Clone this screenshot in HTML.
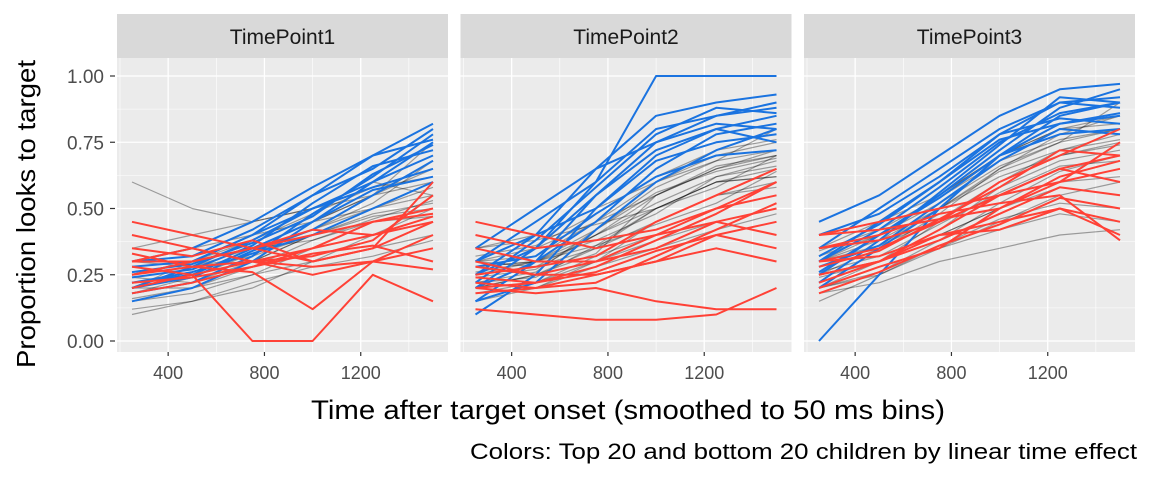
<!DOCTYPE html>
<html><head><meta charset="utf-8"><style>
body{margin:0;background:#fff}
svg text{font-family:"Liberation Sans",sans-serif}
</style></head><body>
<svg id="chart" width="1152" height="480" xmlns="http://www.w3.org/2000/svg"></svg>
<script>
const panelTitles=["TimePoint1","TimePoint2","TimePoint3"];
const timeBins=[250,500,750,1000,1250,1500];
const xTicks=[400,800,1200];
const yTicks=[0,0.25,0.5,0.75,1];
const yTickLabels=["0.00","0.25","0.50","0.75","1.00"];
const gray1=[[0.6,0.5,0.45,0.5,0.6,0.7],[0.15,0.2,0.3,0.4,0.5,0.6],[0.2,0.25,0.3,0.35,0.45,0.5],[0.1,0.15,0.2,0.3,0.4,0.45],[0.3,0.3,0.35,0.45,0.55,0.65],[0.25,0.3,0.4,0.45,0.5,0.55],[0.2,0.2,0.25,0.35,0.4,0.5],[0.35,0.4,0.45,0.5,0.55,0.75],[0.15,0.18,0.25,0.3,0.35,0.4],[0.28,0.3,0.38,0.48,0.58,0.62],[0.22,0.25,0.3,0.4,0.48,0.52],[0.18,0.24,0.33,0.42,0.5,0.58],[0.3,0.35,0.3,0.35,0.45,0.48],[0.12,0.15,0.22,0.28,0.32,0.38],[0.25,0.28,0.35,0.42,0.52,0.68],[0.2,0.3,0.35,0.38,0.45,0.47],[0.4,0.35,0.4,0.5,0.6,0.55],[0.16,0.2,0.28,0.38,0.46,0.53],[0.24,0.22,0.3,0.45,0.55,0.6],[0.3,0.28,0.32,0.4,0.47,0.5]];
const blue1=[[0.25,0.3,0.4,0.55,0.65,0.8],[0.2,0.28,0.38,0.5,0.6,0.75],[0.3,0.32,0.42,0.55,0.7,0.82],[0.22,0.25,0.35,0.45,0.6,0.7],[0.18,0.22,0.32,0.48,0.62,0.78],[0.28,0.3,0.4,0.5,0.58,0.65],[0.24,0.27,0.36,0.52,0.66,0.72],[0.2,0.24,0.34,0.42,0.55,0.68],[0.3,0.35,0.45,0.58,0.7,0.76],[0.15,0.2,0.3,0.45,0.57,0.62],[0.26,0.29,0.37,0.47,0.63,0.74],[0.22,0.26,0.33,0.4,0.5,0.6]];
const red1=[[0.28,0.25,0.0,0.0,0.25,0.15],[0.45,0.4,0.35,0.3,0.35,0.45],[0.3,0.3,0.35,0.4,0.45,0.5],[0.25,0.28,0.3,0.28,0.3,0.27],[0.4,0.35,0.3,0.35,0.4,0.45],[0.2,0.25,0.3,0.32,0.38,0.55],[0.35,0.32,0.38,0.3,0.35,0.6],[0.22,0.24,0.28,0.35,0.45,0.48],[0.3,0.35,0.3,0.25,0.3,0.4],[0.25,0.3,0.35,0.42,0.4,0.47],[0.33,0.28,0.26,0.12,0.3,0.35],[0.18,0.22,0.28,0.33,0.36,0.3]];
const gray2=[[0.25,0.3,0.4,0.55,0.65,0.7],[0.3,0.32,0.45,0.6,0.7,0.75],[0.2,0.25,0.35,0.5,0.6,0.65],[0.15,0.2,0.3,0.45,0.55,0.6],[0.35,0.4,0.5,0.6,0.68,0.72],[0.25,0.28,0.4,0.52,0.62,0.68],[0.2,0.22,0.3,0.38,0.45,0.5],[0.3,0.35,0.45,0.55,0.66,0.7],[0.18,0.2,0.28,0.35,0.42,0.48],[0.28,0.3,0.42,0.58,0.68,0.8],[0.22,0.24,0.36,0.5,0.6,0.62],[0.26,0.3,0.38,0.48,0.62,0.66],[0.3,0.28,0.35,0.45,0.55,0.58],[0.2,0.25,0.33,0.55,0.65,0.72],[0.24,0.27,0.4,0.5,0.58,0.7],[0.32,0.36,0.48,0.62,0.72,0.76],[0.18,0.22,0.32,0.4,0.5,0.55],[0.28,0.3,0.36,0.44,0.52,0.64],[0.22,0.26,0.42,0.56,0.64,0.69],[0.35,0.38,0.44,0.5,0.6,0.62]];
const blue2=[[0.2,0.35,0.6,1.0,1.0,1.0],[0.25,0.4,0.65,0.85,0.9,0.93],[0.15,0.3,0.55,0.75,0.85,0.9],[0.3,0.45,0.6,0.8,0.85,0.88],[0.1,0.25,0.5,0.7,0.8,0.85],[0.35,0.5,0.65,0.75,0.82,0.8],[0.2,0.3,0.45,0.65,0.78,0.82],[0.25,0.35,0.55,0.72,0.8,0.75],[0.3,0.4,0.5,0.68,0.75,0.78],[0.15,0.22,0.42,0.6,0.72,0.8],[0.22,0.38,0.58,0.78,0.88,0.86],[0.28,0.32,0.48,0.62,0.7,0.72]];
const red2=[[0.12,0.1,0.08,0.08,0.1,0.2],[0.45,0.4,0.35,0.4,0.5,0.55],[0.2,0.22,0.28,0.38,0.48,0.6],[0.3,0.25,0.25,0.3,0.4,0.45],[0.25,0.28,0.32,0.45,0.55,0.65],[0.2,0.18,0.2,0.15,0.12,0.12],[0.35,0.3,0.3,0.35,0.45,0.5],[0.22,0.2,0.25,0.3,0.35,0.3],[0.4,0.35,0.38,0.42,0.5,0.6],[0.18,0.2,0.22,0.32,0.42,0.52],[0.28,0.25,0.3,0.4,0.45,0.4],[0.24,0.22,0.26,0.34,0.4,0.35]];
const gray3=[[0.3,0.4,0.55,0.7,0.8,0.85],[0.25,0.35,0.5,0.65,0.75,0.8],[0.2,0.3,0.45,0.55,0.65,0.7],[0.35,0.45,0.55,0.7,0.8,0.82],[0.15,0.25,0.35,0.45,0.55,0.6],[0.3,0.35,0.45,0.6,0.72,0.78],[0.25,0.3,0.4,0.5,0.6,0.62],[0.2,0.28,0.35,0.42,0.48,0.45],[0.3,0.38,0.5,0.62,0.7,0.75],[0.22,0.3,0.42,0.58,0.68,0.72],[0.28,0.34,0.48,0.65,0.78,0.85],[0.18,0.22,0.3,0.35,0.4,0.42],[0.32,0.4,0.52,0.66,0.75,0.9],[0.26,0.32,0.44,0.56,0.66,0.68],[0.2,0.26,0.38,0.52,0.64,0.7],[0.3,0.36,0.46,0.6,0.7,0.74],[0.24,0.3,0.4,0.5,0.58,0.55],[0.34,0.42,0.54,0.68,0.76,0.8],[0.2,0.25,0.36,0.46,0.52,0.5],[0.28,0.36,0.5,0.64,0.72,0.76]];
const blue3=[[0.0,0.25,0.5,0.7,0.85,0.9],[0.45,0.55,0.7,0.85,0.95,0.97],[0.3,0.45,0.6,0.78,0.9,0.92],[0.25,0.4,0.55,0.72,0.88,0.95],[0.35,0.5,0.65,0.8,0.9,0.88],[0.2,0.35,0.5,0.7,0.82,0.85],[0.3,0.42,0.58,0.75,0.86,0.9],[0.4,0.48,0.62,0.78,0.84,0.82],[0.22,0.38,0.56,0.74,0.92,0.9],[0.28,0.36,0.52,0.68,0.8,0.78],[0.32,0.44,0.6,0.76,0.82,0.86],[0.26,0.4,0.54,0.7,0.78,0.8]];
const red3=[[0.3,0.35,0.45,0.55,0.65,0.7],[0.25,0.3,0.4,0.45,0.5,0.4],[0.4,0.45,0.5,0.55,0.6,0.65],[0.2,0.28,0.35,0.5,0.6,0.75],[0.35,0.38,0.45,0.6,0.7,0.8],[0.3,0.32,0.4,0.42,0.5,0.45],[0.25,0.3,0.42,0.55,0.65,0.6],[0.35,0.4,0.48,0.52,0.55,0.38],[0.28,0.34,0.46,0.58,0.72,0.7],[0.22,0.3,0.38,0.48,0.58,0.55],[0.4,0.42,0.46,0.5,0.62,0.68],[0.18,0.26,0.36,0.44,0.54,0.5]];
const grayData=[gray1,gray2,gray3], blueData=[blue1,blue2,blue3], redData=[red1,red2,red3];

const svg=document.getElementById('chart');
const NS="http://www.w3.org/2000/svg";
function mk(tag,attrs,parent){const e=document.createElementNS(NS,tag);for(const k in attrs)e.setAttribute(k,attrs[k]);(parent||svg).appendChild(e);return e;}
const panelLeft=[117,460.5,804], PW=331, PT=58, PB=352;
const xMin=187.5,xMax=1562.5;
function yS(v){return 341-265*v;}
panelTitles.forEach((t,i)=>{
  const L=panelLeft[i];
  const xS=v=>L+(v-xMin)/(xMax-xMin)*PW;
  const g=mk('g',{});
  
  
  mk('rect',{x:L,y:14,width:PW,height:44,fill:'#d9d9d9'},g);
  const st=mk('text',{x:L+PW/2,y:44,'text-anchor':'middle','font-size':21,fill:'#1a1a1a'},g);
  st.textContent=t;
  
  
  mk('rect',{x:L,y:PT,width:PW,height:PB-PT,fill:'#ebebeb'},g);
  [200,600,1000,1400].forEach(v=>mk('line',{x1:xS(v),x2:xS(v),y1:PT,y2:PB,stroke:'#fff','stroke-width':0.6},g));
  [0.125,0.375,0.625,0.875].forEach(v=>mk('line',{x1:L,x2:L+PW,y1:yS(v),y2:yS(v),stroke:'#fff','stroke-width':0.6},g));
  xTicks.forEach(v=>{mk('line',{x1:xS(v),x2:xS(v),y1:PT,y2:PB,stroke:'#fff','stroke-width':1.3},g);
    mk('line',{x1:xS(v),x2:xS(v),y1:PB,y2:PB+4,stroke:'#333','stroke-width':1.2},g);
    const tl=mk('text',{x:xS(v),y:PB+27,'text-anchor':'middle','font-size':18,fill:'#4d4d4d'},g);tl.textContent=v;
    });
  yTicks.forEach(v=>mk('line',{x1:L,x2:L+PW,y1:yS(v),y2:yS(v),stroke:'#fff','stroke-width':1.3},g));
  const line=(d,col,w,op,nm)=>{const p=mk('path',{d:d.map((v,j)=>(j?'L':'M')+xS(timeBins[j]).toFixed(1)+','+yS(v).toFixed(1)).join(''),fill:'none',stroke:col,'stroke-width':w,'stroke-opacity':op,'stroke-linejoin':'round'},g);
    };
  grayData[i].forEach(d=>line(d,'#000',1.2,0.35,'child-line-gray'));
  blueData[i].forEach(d=>line(d,'#1a73e0',2,1,'child-line-top20'));
  redData[i].forEach(d=>line(d,'#ff4136',2,1,'child-line-bottom20'));
});
yTicks.forEach((v,k)=>{mk('line',{x1:110,x2:115,y1:yS(v),y2:yS(v),stroke:'#333','stroke-width':1.2});
  const t=mk('text',{x:104,y:yS(v)+7,'text-anchor':'end','font-size':19,fill:'#4d4d4d'});t.textContent=yTickLabels[k];
  });
const yt=mk('text',{x:0,y:0,transform:'translate(35,214) rotate(-90)','text-anchor':'middle','font-size':26,fill:'#000'});
yt.textContent='Proportion looks to target';
yt.setAttribute('textLength','308');yt.setAttribute('lengthAdjust','spacingAndGlyphs');
const xt=mk('text',{x:628,y:419,'text-anchor':'middle','font-size':27,fill:'#000'});
xt.textContent='Time after target onset (smoothed to 50 ms bins)';
xt.setAttribute('textLength','634');xt.setAttribute('lengthAdjust','spacingAndGlyphs');
const cp=mk('text',{x:1137,y:459,'text-anchor':'end','font-size':22,fill:'#000'});
cp.textContent='Colors: Top 20 and bottom 20 children by linear time effect';
cp.setAttribute('textLength','667');cp.setAttribute('lengthAdjust','spacingAndGlyphs');
</script>
</body></html>
